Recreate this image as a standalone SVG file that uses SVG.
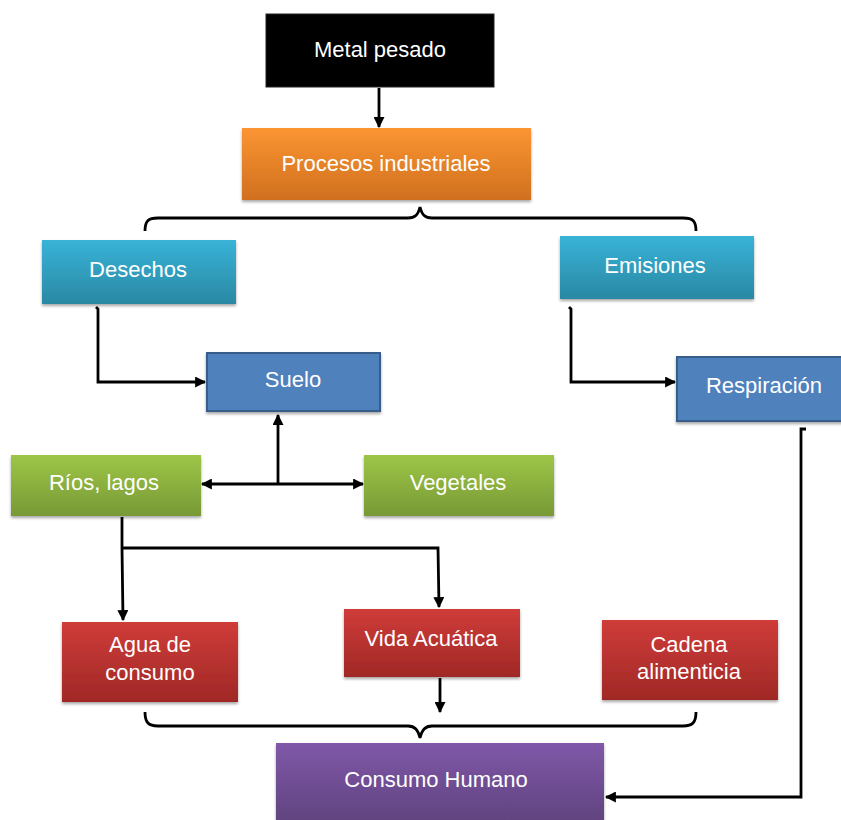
<svg xmlns="http://www.w3.org/2000/svg" width="841" height="820" viewBox="0 0 841 820">
<defs>
<linearGradient id="gOrange" x1="0" y1="0" x2="0" y2="1"><stop offset="0" stop-color="#FB9533"/><stop offset="1" stop-color="#D0701F"/></linearGradient>
<linearGradient id="gCyan" x1="0" y1="0" x2="0" y2="1"><stop offset="0" stop-color="#38B3D8"/><stop offset="1" stop-color="#2A88A3"/></linearGradient>
<linearGradient id="gGreen" x1="0" y1="0" x2="0" y2="1"><stop offset="0" stop-color="#9DC647"/><stop offset="1" stop-color="#789936"/></linearGradient>
<linearGradient id="gRed" x1="0" y1="0" x2="0" y2="1"><stop offset="0" stop-color="#CF3C39"/><stop offset="1" stop-color="#A02826"/></linearGradient>
<linearGradient id="gPurple" x1="0" y1="0" x2="0" y2="1"><stop offset="0" stop-color="#7F58A9"/><stop offset="1" stop-color="#60437E"/></linearGradient>
<filter id="sh" x="-10%" y="-10%" width="120%" height="130%"><feDropShadow dx="0" dy="2" stdDeviation="1.5" flood-color="#000" flood-opacity="0.35"/></filter>
<marker id="arr" viewBox="0 0 10 10" refX="9" refY="5" markerWidth="11" markerHeight="11" markerUnits="userSpaceOnUse" orient="auto-start-reverse"><path d="M0,0 L10,5 L0,10 z" fill="#000"/></marker>
</defs>
<style>
.lbl{font-family:"Liberation Sans",Arial,sans-serif;font-size:22px;fill:#fff;text-anchor:middle}
.con{fill:none;stroke:#000;stroke-width:2.8}
</style>
<rect width="841" height="820" fill="#fff"/>
<g id="n-metal"><rect x="266" y="14" width="228" height="73" fill="#000" stroke="#222" stroke-width="1"/><text class="lbl" x="380" y="57">Metal pesado</text></g>
<g id="n-procesos"><rect x="242" y="128" width="289" height="72" fill="url(#gOrange)" filter="url(#sh)"/><text class="lbl" x="386" y="171">Procesos industriales</text></g>
<g id="n-desechos"><rect x="42" y="240" width="194" height="64" fill="url(#gCyan)" filter="url(#sh)"/><text class="lbl" x="138" y="277">Desechos</text></g>
<g id="n-emisiones"><rect x="560" y="236" width="194" height="63" fill="url(#gCyan)" filter="url(#sh)"/><text class="lbl" x="655" y="273">Emisiones</text></g>
<g id="n-suelo"><rect x="207" y="353" width="173" height="58" fill="#4F81BD" stroke="#385D8A" stroke-width="2" filter="url(#sh)"/><text class="lbl" x="293" y="387">Suelo</text></g>
<g id="n-respiracion"><rect x="677" y="357" width="170" height="64" fill="#4F81BD" stroke="#385D8A" stroke-width="2" filter="url(#sh)"/><text class="lbl" x="764" y="393">Respiración</text></g>
<g id="n-rios"><rect x="11" y="455" width="190" height="61" fill="url(#gGreen)" filter="url(#sh)"/><text class="lbl" x="104" y="490">Ríos, lagos</text></g>
<g id="n-vegetales"><rect x="364" y="455" width="190" height="61" fill="url(#gGreen)" filter="url(#sh)"/><text class="lbl" x="458" y="490">Vegetales</text></g>
<g id="n-agua"><rect x="62" y="622" width="176" height="80" fill="url(#gRed)" filter="url(#sh)"/><text class="lbl" x="150" y="652">Agua de</text><text class="lbl" x="150" y="680">consumo</text></g>
<g id="n-vida"><rect x="344" y="609" width="176" height="68" fill="url(#gRed)" filter="url(#sh)"/><text class="lbl" x="431" y="646">Vida Acuática</text></g>
<g id="n-cadena"><rect x="602" y="620" width="176" height="80" fill="url(#gRed)" filter="url(#sh)"/><text class="lbl" x="689" y="652">Cadena</text><text class="lbl" x="689" y="679">alimenticia</text></g>
<g id="n-consumo"><rect x="276" y="743" width="328" height="80" fill="url(#gPurple)" filter="url(#sh)"/><text class="lbl" x="436" y="787">Consumo Humano</text></g>
<g id="connectors">
<path class="con" d="M379,88 L379,127" marker-end="url(#arr)"/>
<path class="con" d="M145,231 C145,221 148,218 158,218 L408,218 C415,218 418,215 420,207 C422,215 425,218 432,218 L683,218 C693,218 696,221 696,231"/>
<path class="con" d="M96,307 L98,309 L98,382 L205,382" marker-end="url(#arr)"/>
<path class="con" d="M569,307 L571,309 L571,382 L675,382" marker-end="url(#arr)"/>
<path class="con" d="M278,484 L278,415" marker-end="url(#arr)"/>
<path class="con" d="M202,484 L363,484" marker-start="url(#arr)" marker-end="url(#arr)"/>
<path class="con" d="M122,517 L122,548 L123,620" marker-end="url(#arr)"/>
<path class="con" d="M122,548 L438,548 L439,607" marker-end="url(#arr)"/>
<path class="con" d="M440,678 L440,712" marker-end="url(#arr)"/>
<path class="con" d="M145,712 C145,722 148,726 158,726 L408,726 C415,726 418,730 420,738 C422,730 425,726 432,726 L683,726 C693,726 696,722 696,712"/>
<path class="con" d="M806,429 L801,429 L801,797 L606,797" marker-end="url(#arr)"/>
</g>
</svg>
